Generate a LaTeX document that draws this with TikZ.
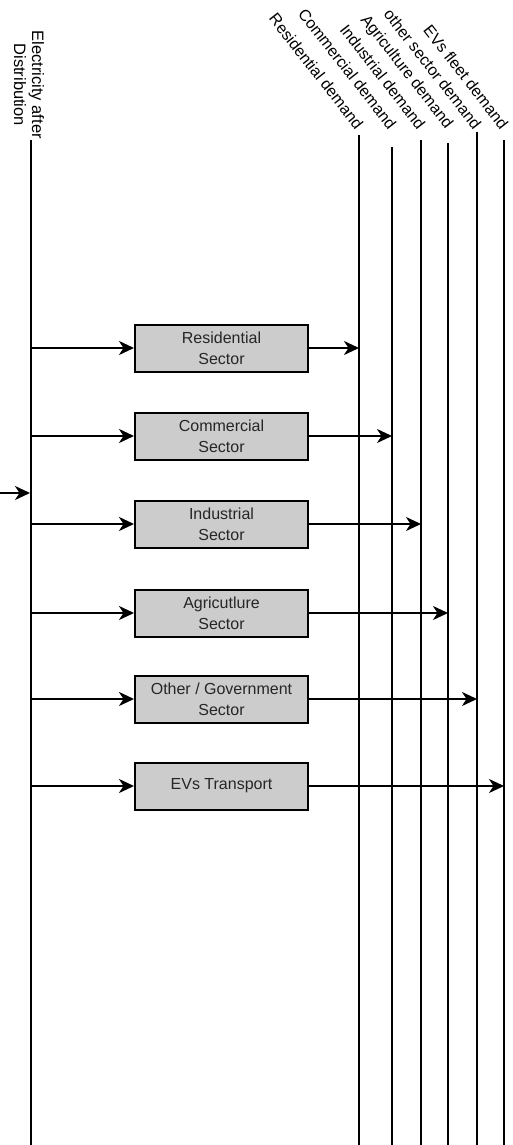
\documentclass[tikz,border=0pt]{standalone}
\usepackage{fontspec}
\setmainfont{Liberation Sans}
\usetikzlibrary{arrows.meta}

\begin{document}
\begin{tikzpicture}[x=1pt, y=-1pt,
    sector/.style={rectangle, draw, fill=black!20, line width=2pt, minimum width=173pt, minimum height=47pt, inner sep=0pt, align=center, text=black!85, font=\fontsize{16}{21}\selectfont},
    flow/.style={-{Stealth[length=15pt, width=14pt, inset=4.5pt]}, line width=2pt},
    demandlabel/.style={rotate=-52, anchor=east, inner sep=0pt, font=\fontsize{16}{19}\selectfont}]
    \useasboundingbox (0, 0) rectangle (512, 1145);

    % Bus
    \coordinate (src) at (0, 493);
    \coordinate (bustop) at (31, 140);
    \coordinate (busbot) at (31, 1145);
    \draw[line width=2.5pt] (bustop) -- (busbot);
    \node[rotate=-90, anchor=east, inner sep=0pt, align=center, font=\fontsize{16.5}{18}\selectfont] at (29, 139) (buslabel) {Electricity after\\Distribution};

    % Demand lines
    % res & com & ind & agr & oth & ev &
    \foreach \x/\top/\name/\txt in {359/135/resdem/Residential demand, 392/147/comdem/Commercial demand, 421/140/inddem/Industrial demand, 448/143/agrdem/Agriculture demand, 477/132/othdem/other sector demand, 504/140/evdem/EVs fleet demand} {
        \coordinate (\name) at (\x, \top);
        \coordinate (\name bot) at (\x, 1145);
        \draw[line width=1.8pt] (\name) -- (\name bot);
        \node[demandlabel] at (\x + 1, 127) (\name label) {\txt};
    }

    % Nodes
    \node[sector] at (221.5, 348) (res) {Residential\\Sector};
    \node[sector] at (221.5, 436) (com) {Commercial\\Sector};
    \node[sector] at (221.5, 524) (ind) {Industrial\\Sector};
    \node[sector] at (221.5, 613) (agr) {Agricutlure\\Sector};
    \node[sector] at (221.5, 699) (oth) {Other / Government\\Sector};
    \node[sector] at (221.5, 786) (ev) {EVs Transport};

    \draw[flow, shorten >=1pt] (src) -- (src -| bustop);

    \draw[flow] (res -| bustop) -- (res);
    \draw[flow] (com -| bustop) -- (com);
    \draw[flow] (ind -| bustop) -- (ind);
    \draw[flow] (agr -| bustop) -- (agr);
    \draw[flow] (oth -| bustop) -- (oth);
    \draw[flow] (ev -| bustop) -- (ev);

    \draw[flow] (res) -- (res -| resdem);
    \draw[flow] (com) -- (com -| comdem);
    \draw[flow] (ind) -- (ind -| inddem);
    \draw[flow] (agr) -- (agr -| agrdem);
    \draw[flow] (oth) -- (oth -| othdem);
    \draw[flow] (ev) -- (ev -| evdem);

\end{tikzpicture}
\end{document}
